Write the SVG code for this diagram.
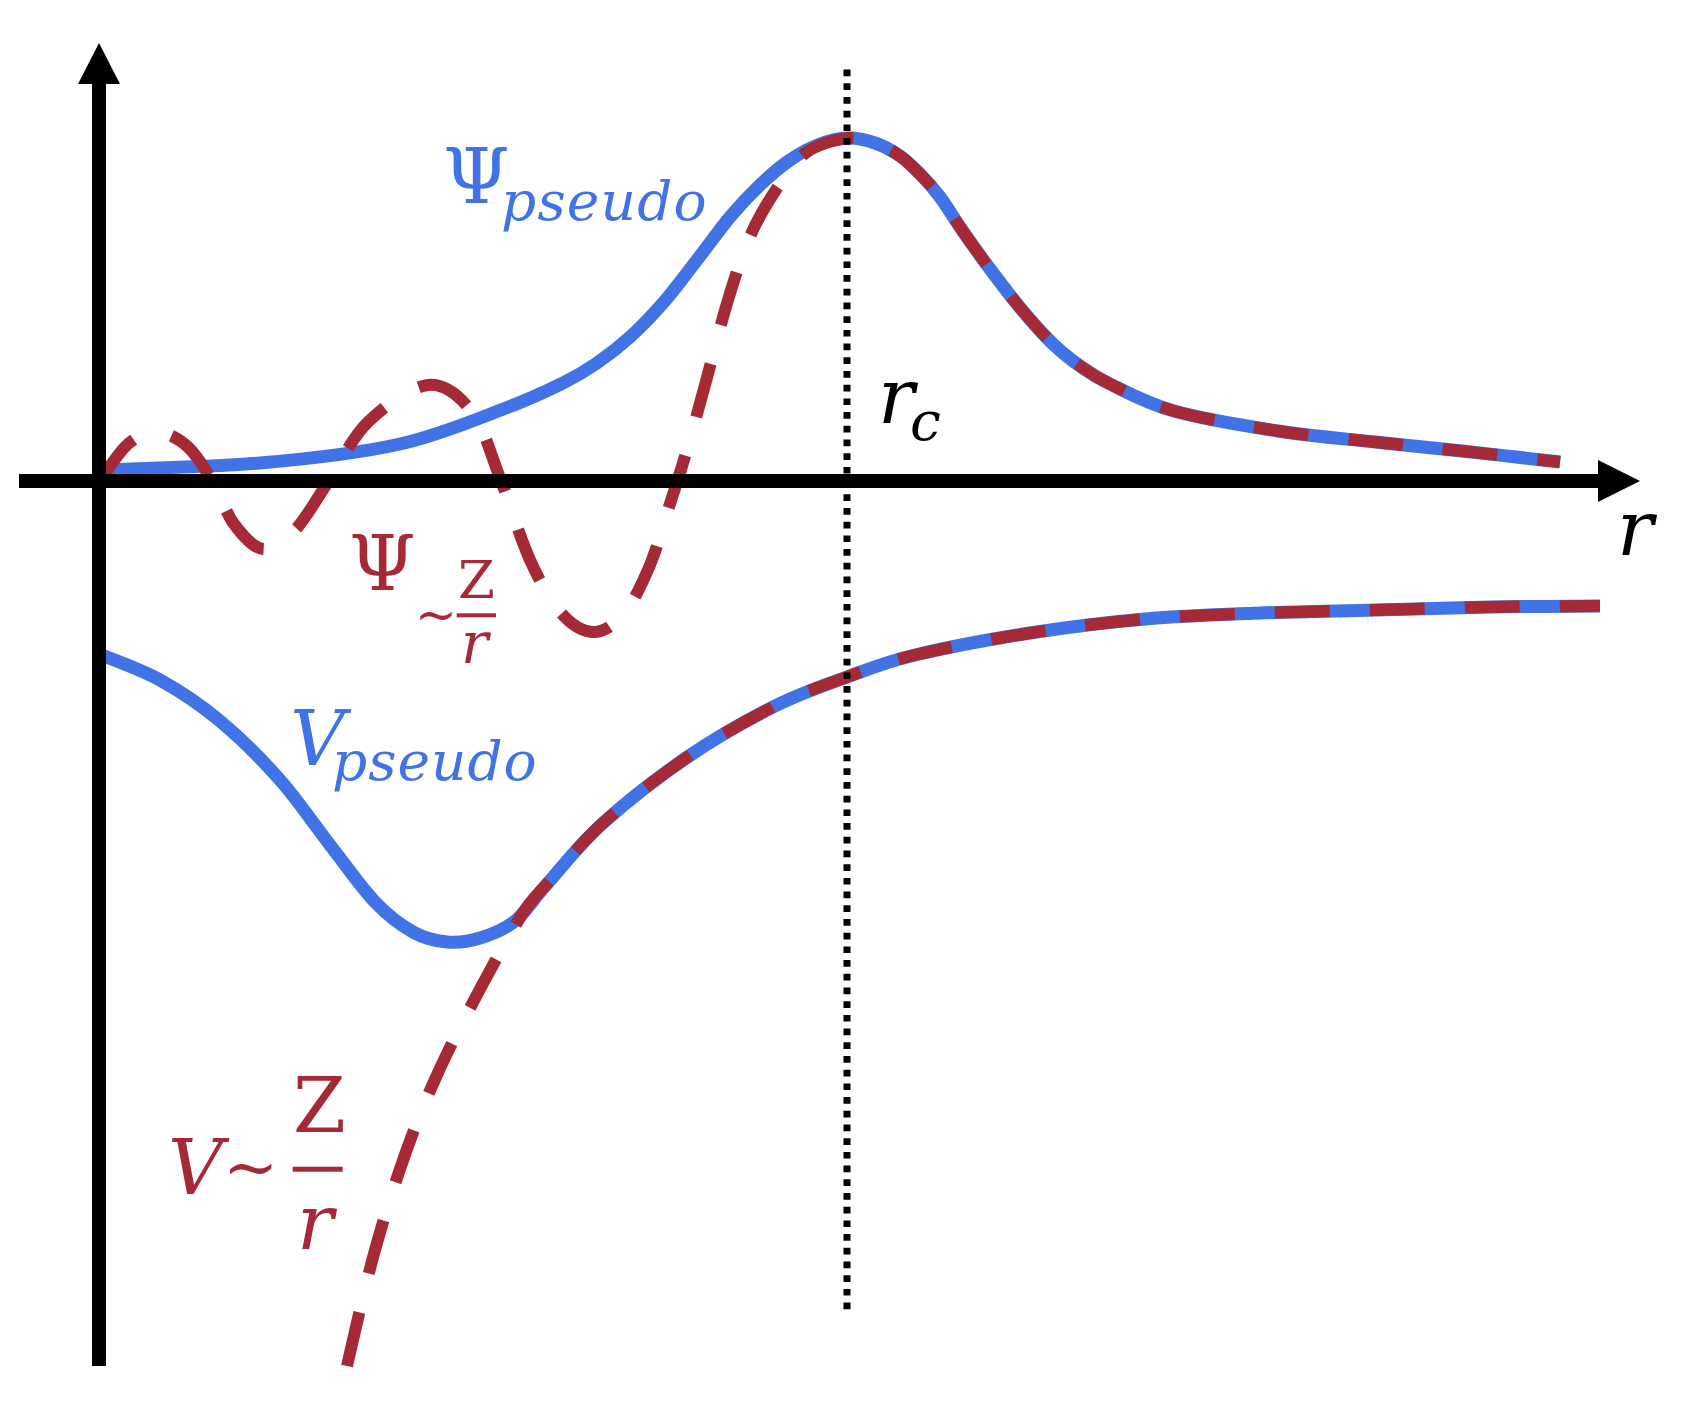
<svg xmlns="http://www.w3.org/2000/svg" width="1702" height="1415" viewBox="0 0 1702 1415">
<style>
.blue{fill:none;stroke:#4173E6;stroke-width:13;stroke-linejoin:round}
.red{fill:none;stroke:#A52A36;stroke-width:12;stroke-dasharray:55 40}
.ax{stroke:#000;stroke-width:14;fill:none}
.dot{stroke:#000;stroke-width:7;stroke-dasharray:6.7 7;fill:none}
text{font-family:"DejaVu Serif","Liberation Serif",serif}
.tb{fill:#4173E6}
.tr{fill:#A52A36}
.it{font-style:italic}
</style>
<rect width="1702" height="1415" fill="#fff"/>
<g id="curves">
<path id="psi-pseudo" class="blue" d="M99,470 C125.8,468.8 209.8,467.3 260,463 C310.2,458.7 359,453.2 400,444 C441,434.8 478.8,418.2 506,408 C533.2,397.8 547.8,390.5 563,383 C578.2,375.5 585.8,370.7 597,363 C608.2,355.3 619,347 630,337 C641,327 651.8,315.8 663,303 C674.2,290.2 685.8,274.3 697,260 C708.2,245.7 719.5,229.5 730,217 C740.5,204.5 750,194.5 760,185 C770,175.5 780,166.8 790,160 C800,153.2 810.3,147.7 820,144 C829.7,140.3 838.8,138.2 848,138 C857.2,137.8 866.3,140 875,143 C883.7,146 892.5,150.8 900,156 C907.5,161.2 913.3,167.2 920,174 C926.7,180.8 933,187.7 940,197 C947,206.3 953.7,218 962,230 C970.3,242 980,255.7 990,269 C1000,282.3 1011.5,297.5 1022,310 C1032.5,322.5 1043.3,334.7 1053,344 C1062.7,353.3 1070.5,359.3 1080,366 C1089.5,372.7 1094.3,376.5 1110,384 C1125.7,391.5 1146,403.2 1174,411 C1202,418.8 1244.5,425.8 1278,431 C1311.5,436.2 1344.3,438.7 1375,442 C1405.7,445.3 1431.2,447.7 1462,451 C1492.8,454.3 1543.7,460.2 1560,462"/>
<path id="v-pseudo" class="blue" d="M99,654 C109.2,658.3 139.8,668.8 160,680 C180.2,691.2 200,704.3 220,721 C240,737.7 261.7,759.3 280,780 C298.3,800.7 314.2,824.7 330,845 C345.8,865.3 361.2,887.5 375,902 C388.8,916.5 401,925.3 413,932 C425,938.7 435.8,941 447,942 C458.2,943 468.7,941.5 480,938 C491.3,934.5 503.8,930 515,921 C526.2,912 532.3,900.3 547,884 C561.7,867.7 579.3,844.3 603,823 C626.7,801.7 660.3,775.5 689,756 C717.7,736.5 748.7,719.2 775,706 C801.3,692.8 823.7,685.5 847,677 C870.3,668.5 884.5,662.3 915,655 C945.5,647.7 991.7,639 1030,633 C1068.3,627 1106.7,622.3 1145,619 C1183.3,615.7 1221.7,614.5 1260,613 C1298.3,611.5 1336.7,611 1375,610 C1413.3,609 1452.5,607.7 1490,607 C1527.5,606.3 1581.7,606.2 1600,606"/>
<path id="psi-ae" class="red" d="M99,482 C103.8,475.7 118.3,452.3 128,444 C137.7,435.7 147,431.5 157,432 C167,432.5 178.5,438.3 188,447 C197.5,455.7 206.3,471.2 214,484 C221.7,496.8 225.8,513.2 234,524 C242.2,534.8 252.8,548 263,549 C273.2,550 284.2,541.2 295,530 C305.8,518.8 315.8,500 328,482 C340.2,464 351.3,438.2 368,422 C384.7,405.8 410.7,386.7 428,385 C445.3,383.3 460,396.5 472,412 C484,427.5 490.3,453.3 500,478 C509.7,502.7 519.7,537.3 530,560 C540.3,582.7 551.2,602 562,614 C572.8,626 584.5,632.3 595,632 C605.5,631.7 615.8,623.2 625,612 C634.2,600.8 642.8,582 650,565 C657.2,548 662,528.7 668,510 C674,491.3 679.8,473.8 686,453 C692.2,432.2 698,410.5 705,385 C712,359.5 720.2,325.5 728,300 C735.8,274.5 742.7,252.3 752,232 C761.3,211.7 774.3,191.7 784,178 C793.7,164.3 799.3,156.7 810,150 C820.7,143.3 837.2,139.2 848,138 C858.8,136.8 866.3,140 875,143 C883.7,146 892.5,150.8 900,156 C907.5,161.2 913.3,167.2 920,174 C926.7,180.8 933,187.7 940,197 C947,206.3 953.7,218 962,230 C970.3,242 980,255.7 990,269 C1000,282.3 1011.5,297.5 1022,310 C1032.5,322.5 1043.3,334.7 1053,344 C1062.7,353.3 1070.5,359.3 1080,366 C1089.5,372.7 1094.3,376.5 1110,384 C1125.7,391.5 1146,403.2 1174,411 C1202,418.8 1244.5,425.8 1278,431 C1311.5,436.2 1344.3,438.7 1375,442 C1405.7,445.3 1431.2,447.7 1462,451 C1492.8,454.3 1543.7,460.2 1560,462"/>
<path id="v-ae" class="red" d="M347,1366 C351.2,1348.5 363.2,1293.8 372,1261 C380.8,1228.2 390,1198.2 400,1169 C410,1139.8 420.3,1112.8 432,1086 C443.7,1059.2 455.2,1036.3 470,1008 C484.8,979.7 508.2,936.7 521,916 C530,901 536,896 547,884 C560.7,868.5 579.3,844.3 603,823 C626.7,801.7 660.3,775.5 689,756 C717.7,736.5 748.7,719.2 775,706 C801.3,692.8 823.7,685.5 847,677 C870.3,668.5 884.5,662.3 915,655 C945.5,647.7 991.7,639 1030,633 C1068.3,627 1106.7,622.3 1145,619 C1183.3,615.7 1221.7,614.5 1260,613 C1298.3,611.5 1336.7,611 1375,610 C1413.3,609 1452.5,607.7 1490,607 C1527.5,606.3 1581.7,606.2 1600,606"/>
</g>
<g id="axes">
<line id="y-axis" class="ax" x1="99" y1="80" x2="99" y2="1366"/>
<polygon id="y-arrow" points="99,43 78,84 120,84" fill="#000"/>
<line id="x-axis" class="ax" x1="19" y1="481" x2="1602" y2="481"/>
<polygon id="x-arrow" points="1640,481 1598,460 1598,502" fill="#000"/>
<line id="rc-line" class="dot" x1="847" y1="69.6" x2="847" y2="1314"/>
</g>
<g id="label-psi-pseudo" class="tb">
<text x="443" y="203" font-size="76">Ψ<tspan class="it" x="501" y="220" font-size="55" letter-spacing="1.2">pseudo</tspan></text>
</g>
<g id="label-rc">
<text class="it" x="878" y="423" font-size="76">r<tspan x="910" y="440" font-size="55">c</tspan></text>
</g>
<g id="label-r">
<text class="it" x="1617" y="555" font-size="76">r</text>
</g>
<g id="label-psi-ae" class="tr">
<text x="349" y="590" font-size="76">Ψ</text>
<text x="415" y="632" font-size="50">~</text>
<text x="458" y="598" font-size="53">Z</text>
<rect x="456.7" y="613.3" width="39.3" height="4"/>
<text class="it" x="461" y="663" font-size="57">r</text>
</g>
<g id="label-v-pseudo" class="tb">
<text class="it" x="290" y="765" font-size="76">V<tspan x="332" y="780" font-size="55" letter-spacing="1">pseudo</tspan></text>
</g>
<g id="label-v-ae" class="tr">
<text class="it" x="168" y="1194" font-size="76">V</text>
<text x="223" y="1190" font-size="66">~</text>
<rect x="292.7" y="1166.7" width="50" height="5"/>
<text x="293" y="1132" font-size="76">Z</text>
<text class="it" x="297" y="1249" font-size="76">r</text>
</g>
</svg>
